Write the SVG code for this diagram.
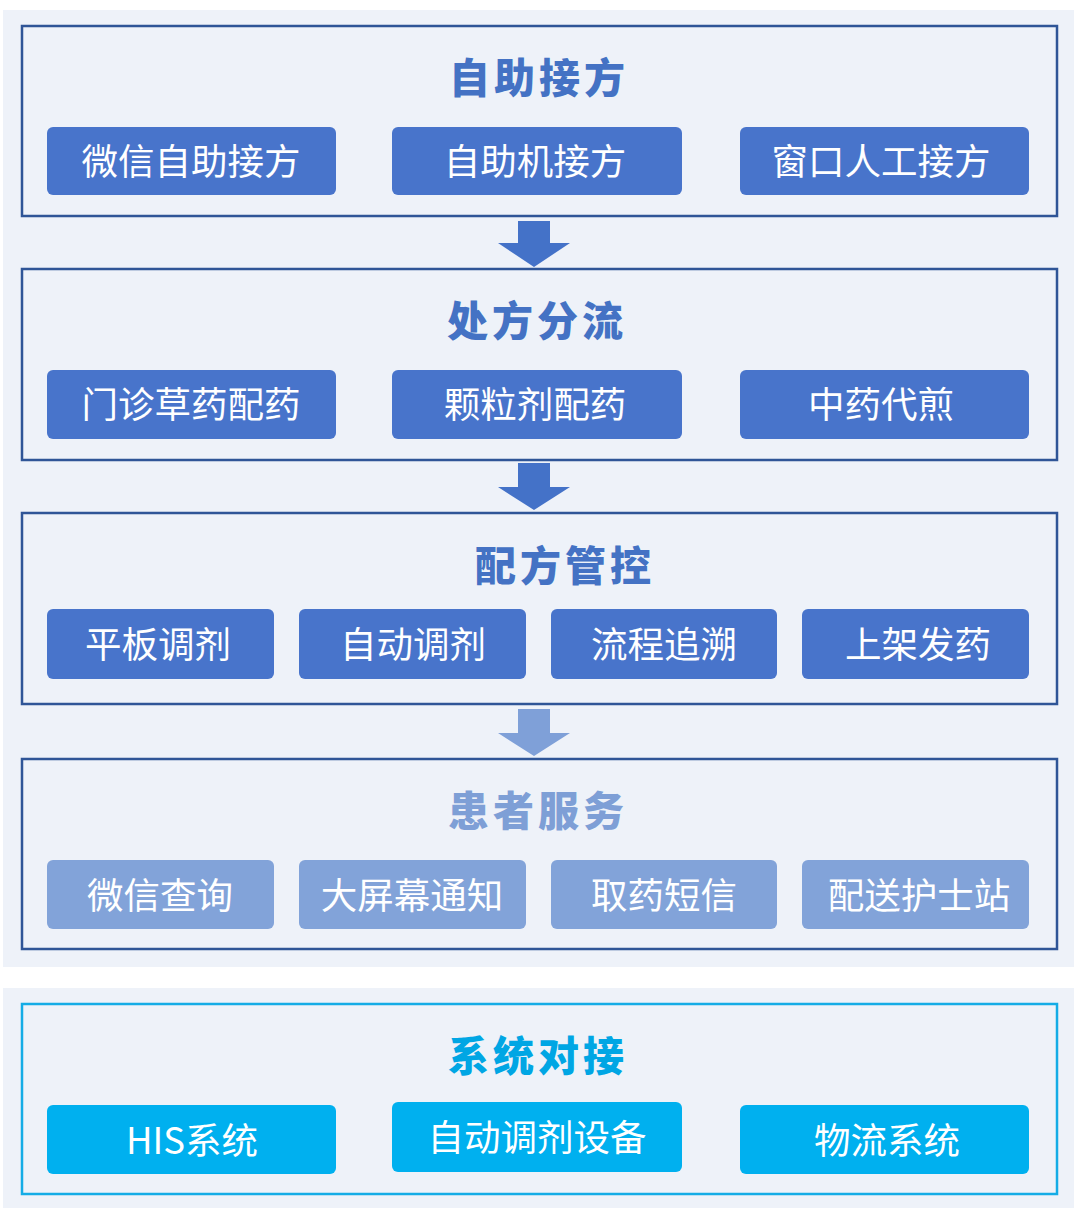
<svg xmlns="http://www.w3.org/2000/svg" width="1080" height="1218" viewBox="0 0 1080 1218">
<style>
.panel{fill:#eef2f9}
.frame{fill:none;stroke:#2f5597;stroke-width:2.5}
.frameC{fill:none;stroke:#14ace6;stroke-width:2.5}
.box{fill:#4874cb}
.boxL{fill:#82a3d9}
.boxC{fill:#00b0ef}
.lbl{font-family:"Noto Sans CJK SC","Noto Sans",sans-serif;font-size:36.5px;fill:#ffffff;text-anchor:middle}
.ttl{font-family:"Noto Sans CJK SC",sans-serif;font-size:41px;font-weight:900;text-anchor:middle;letter-spacing:4px}
.arr{fill:#4472c8}
.arrL{fill:#7fa0d8}
</style>
<rect width="1080" height="1218" fill="#ffffff"/>
<rect class="panel" x="3" y="10" width="1071" height="957"/>
<rect class="panel" x="3" y="988" width="1071" height="220"/>

<g id="connectors">
<polygon class="arr" points="518,221 550,221 550,243 570,243 534,267 498,243 518,243"/>
<polygon class="arr" points="518,463 550,463 550,487 570,487 534,510 498,487 518,487"/>
<polygon class="arrL" points="518,709 550,709 550,733 570,733 534,756 498,733 518,733"/>
</g>

<g id="sec1">
<rect class="frame" x="22" y="26" width="1035" height="190"/>
<text class="ttl" x="539" y="93" fill="#4472c4">自助接方</text>
<g id="n1a"><rect class="box" x="47" y="127" width="289" height="68" rx="6"/><text class="lbl" x="191" y="175">微信自助接方</text></g>
<g id="n1b"><rect class="box" x="392" y="127" width="290" height="68" rx="6"/><text class="lbl" x="535" y="175">自助机接方</text></g>
<g id="n1c"><rect class="box" x="740" y="127" width="289" height="68" rx="6"/><text class="lbl" x="881" y="175">窗口人工接方</text></g>
</g>

<g id="sec2">
<rect class="frame" x="22" y="269" width="1035" height="191"/>
<text class="ttl" x="537" y="336" fill="#4472c4">处方分流</text>
<g id="n2a"><rect class="box" x="47" y="370" width="289" height="69" rx="6"/><text class="lbl" x="191" y="418">门诊草药配药</text></g>
<g id="n2b"><rect class="box" x="392" y="370" width="290" height="69" rx="6"/><text class="lbl" x="535" y="418">颗粒剂配药</text></g>
<g id="n2c"><rect class="box" x="740" y="370" width="289" height="69" rx="6"/><text class="lbl" x="881" y="418">中药代煎</text></g>
</g>

<g id="sec3">
<rect class="frame" x="22" y="513" width="1035" height="191"/>
<text class="ttl" x="565" y="581" fill="#4472c4">配方管控</text>
<g id="n3a"><rect class="box" x="47" y="609" width="227" height="70" rx="6"/><text class="lbl" x="158" y="658">平板调剂</text></g>
<g id="n3b"><rect class="box" x="299" y="609" width="227" height="70" rx="6"/><text class="lbl" x="413" y="658">自动调剂</text></g>
<g id="n3c"><rect class="box" x="551" y="609" width="226" height="70" rx="6"/><text class="lbl" x="664" y="658">流程追溯</text></g>
<g id="n3d"><rect class="box" x="802" y="609" width="227" height="70" rx="6"/><text class="lbl" x="918" y="658">上架发药</text></g>
</g>

<g id="sec4">
<rect class="frame" x="22" y="759" width="1035" height="190"/>
<text class="ttl" x="538" y="826" fill="#7e9fd6">患者服务</text>
<g id="n4a"><rect class="boxL" x="47" y="860" width="227" height="69" rx="6"/><text class="lbl" x="160" y="909">微信查询</text></g>
<g id="n4b"><rect class="boxL" x="299" y="860" width="227" height="69" rx="6"/><text class="lbl" x="412" y="909">大屏幕通知</text></g>
<g id="n4c"><rect class="boxL" x="551" y="860" width="226" height="69" rx="6"/><text class="lbl" x="664" y="909">取药短信</text></g>
<g id="n4d"><rect class="boxL" x="802" y="860" width="227" height="69" rx="6"/><text class="lbl" x="919" y="909">配送护士站</text></g>
</g>

<g id="sec5">
<rect class="frameC" x="22" y="1004" width="1035" height="190"/>
<text class="ttl" x="538" y="1071" fill="#00a6e4">系统对接</text>
<g id="n5a"><rect class="boxC" x="47" y="1105" width="289" height="69" rx="6"/><text class="lbl" x="192" y="1154">HIS系统</text></g>
<g id="n5b"><rect class="boxC" x="392" y="1102" width="290" height="70" rx="6"/><text class="lbl" x="537" y="1151">自动调剂设备</text></g>
<g id="n5c"><rect class="boxC" x="740" y="1105" width="289" height="69" rx="6"/><text class="lbl" x="887" y="1154">物流系统</text></g>
</g>
</svg>
